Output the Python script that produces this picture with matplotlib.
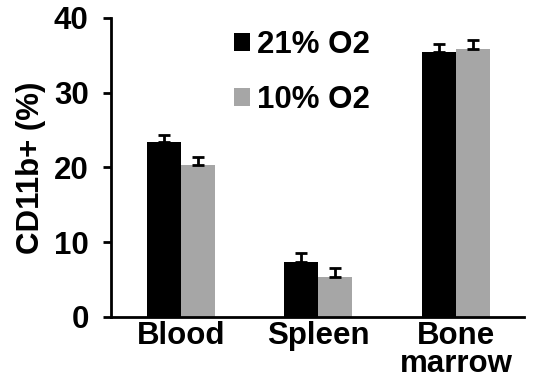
import matplotlib
matplotlib.use("Agg")
import matplotlib.pyplot as plt
import numpy as np

plt.rcParams['font.family'] = ['Liberation Sans', 'DejaVu Sans']
plt.rcParams['font.weight'] = 'bold'

categories = ["Blood", "Spleen", "Bone\nmarrow"]
series_names = ["21% O2", "10% O2"]
vals_21 = [23.4, 7.4, 35.5]
err_21 = [1.0, 1.1, 1.0]
vals_10 = [20.3, 5.3, 35.8]
err_10 = [1.1, 1.2, 1.3]
yticks = [0, 10, 20, 30, 40]

fig = plt.figure(figsize=(5.33, 3.81), dpi=100)
ax = fig.add_axes([0.208, 0.168, 0.775, 0.785])

x = np.arange(len(categories))
w = 0.247
fs = 22.5
ekw = dict(ecolor='black', elinewidth=2, capsize=4, capthick=2)
ax.bar(x - w/2, vals_21, w, color='black', yerr=[[0]*3, err_21],
       error_kw=ekw, label=series_names[0])
ax.bar(x + w/2, vals_10, w, color='#a6a6a6', yerr=[[0]*3, err_10],
       error_kw=ekw, label=series_names[1])

ax.set_ylim(0, 40)
ax.set_xlim(-0.509, 2.495)
ax.set_yticks(yticks)
ax.set_yticklabels([str(t) for t in yticks], fontsize=fs, fontweight='bold')
ax.set_xticks(x)
ax.set_xticklabels(categories, fontsize=fs, fontweight='bold', linespacing=0.92)
ax.tick_params(axis='x', length=0, pad=3)
ax.tick_params(axis='y', length=6, width=2, pad=10, direction='out')
for s in ['top', 'right']:
    ax.spines[s].set_visible(False)
for s in ['left', 'bottom']:
    ax.spines[s].set_linewidth(2)
ax.set_ylabel("CD11b+ (%)", fontsize=fs, fontweight='bold', labelpad=6)

leg = ax.legend(loc='upper left', bbox_to_anchor=(0.268, 1.0), frameon=False,
                fontsize=fs, handlelength=0.52, handleheight=0.52, handletextpad=0.2,
                labelspacing=0.8, borderaxespad=0.0)
for t in leg.get_texts():
    t.set_fontweight('bold')

fig.savefig("out.png", dpi=100)
